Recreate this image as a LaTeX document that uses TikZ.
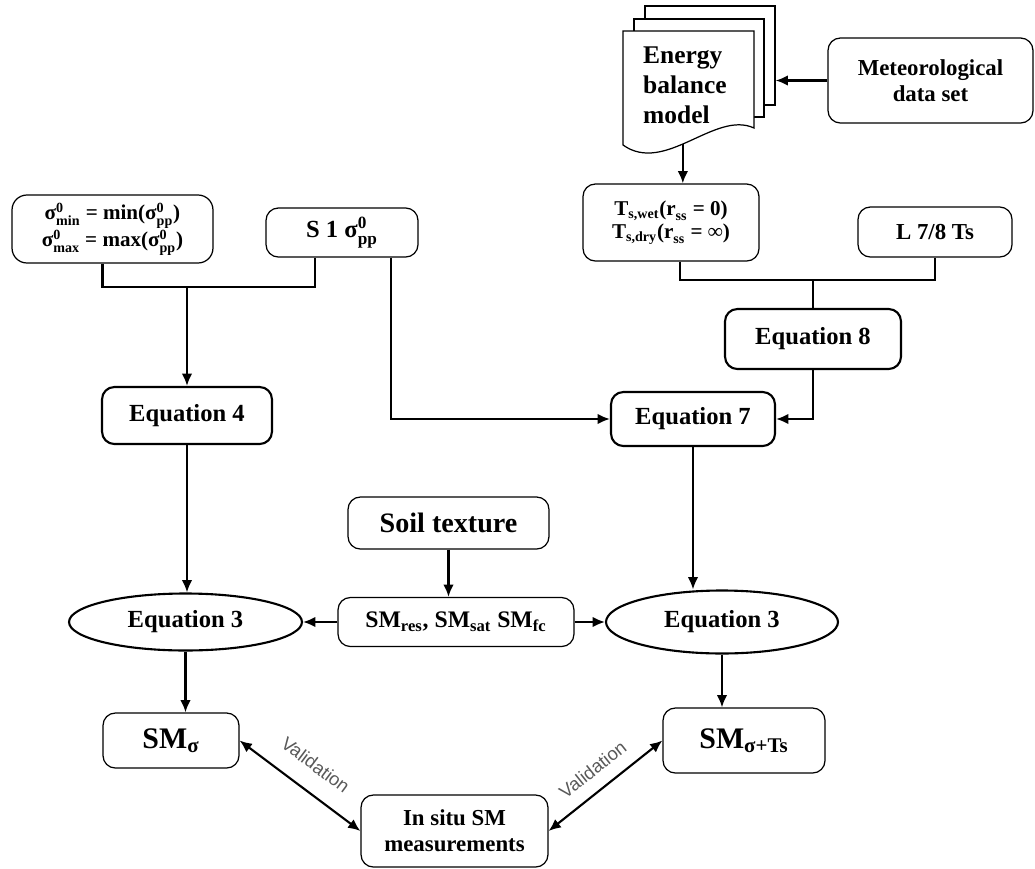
\documentclass[tikz,border=0pt]{standalone}
\usepackage{amsmath}
\usepackage{fontspec}
\setmainfont{Liberation Serif}
\setsansfont{Liberation Sans}
\usetikzlibrary{shapes,arrows.meta,positioning,calc}
\newcommand{\tx}[1]{\text{#1}}

\begin{document}
\begin{tikzpicture}[x=0.02cm, y=-0.02cm,
    box/.style={draw, rectangle, rounded corners=7pt, line width=0.7pt, inner sep=0pt, align=center, font=\bfseries\fontsize{13}{15}\selectfont},
    eqbox/.style={box, line width=1.2pt, font=\bfseries\fontsize{14}{16}\selectfont},
    eqell/.style={draw, ellipse, line width=1.2pt, inner sep=0pt, font=\bfseries\fontsize{14}{16}\selectfont},
    sheet/.style={draw, rectangle, fill=white, line width=0.7pt, minimum width=2.6cm},
    line/.style={line width=1.2pt},
    arr/.style={line, -{Latex[length=7pt,width=6pt]}},
    dbl/.style={line, {Latex[length=7pt,width=6pt]}-{Latex[length=7pt,width=6pt]}},
    vlabel/.style={font=\sffamily\fontsize{10.5}{12}\selectfont, text=black!65}]
    \useasboundingbox (0,0) rectangle (1035,869);

    % energy balance model (stacked sheets)
    \node (sheetc) [sheet, minimum height=1.98cm] at (710,55.5) {};
    \node (sheetb) [sheet, minimum height=1.96cm] at (699,68) {};
    \draw[fill=white, line width=0.7pt] (623,31) -- (754,31) -- (754,128)
        .. controls (715,110) and (665,175) .. coordinate[pos=0.55] (ebmout) (623,145) -- cycle;
    \node (ebm) [anchor=west, align=left, font=\bfseries\fontsize{14.5}{17}\selectfont] at (637,85) {Energy\\balance\\model};
    \node (met) [box, minimum width=4.1cm, minimum height=1.7cm] at (930.5,80.5) {Meteorological\\data set};

    % temperature inputs
    \node (ts) [box, minimum width=3.52cm, minimum height=1.54cm, font=\bfseries\fontsize{12}{13}\selectfont] at (671,222.5)
        {$\tx{T}_{\tx{s,wet}}\tx{(r}_{\tx{ss}}\tx{ = 0)}$\\$\tx{T}_{\tx{s,dry}}\tx{(r}_{\tx{ss}}\tx{ = ∞)}$};
    \node (lts) [box, minimum width=3.08cm, minimum height=1cm] at (935,232) {L 7/8 Ts};
    \node (eq8) [eqbox, minimum width=3.52cm, minimum height=1.2cm] at (813,339) {Equation 8};

    % backscatter inputs
    \node (sig) [box, rounded corners=8.5pt, minimum width=4.02cm, minimum height=1.36cm, font=\bfseries\fontsize{12}{13.6}\selectfont] at (112.5,229)
        {$\tx{σ}^{\tx{0}}_{\tx{min}}\tx{ = min(}\tx{σ}^{\tx{0}}_{\tx{pp}}\tx{)}$\\$\tx{σ}^{\tx{0}}_{\tx{max}}\tx{ = max(}\tx{σ}^{\tx{0}}_{\tx{pp}}\tx{)}$};
    \node (s1) [box, minimum width=3.04cm, minimum height=0.98cm, font=\bfseries\fontsize{14}{16}\selectfont] at (342,232.5)
        {S 1 $\tx{σ}^{\tx{0}}_{\tx{pp}}$};

    \node (eq4) [eqbox, minimum width=3.4cm, minimum height=1.14cm] at (187,415.5) {Equation 4};
    \node (eq7) [eqbox, minimum width=3.28cm, minimum height=1.08cm] at (693,419) {Equation 7};

    % soil
    \node (soil) [box, minimum width=4.02cm, minimum height=1.04cm, font=\bfseries\fontsize{16}{18}\selectfont] at (448.5,523) {Soil texture};
    \node (sm) [box, minimum width=4.72cm, minimum height=0.98cm, font=\bfseries\fontsize{13.5}{15}\selectfont] at (456,622)
        {SM\textsubscript{res}, SM\textsubscript{sat} SM\textsubscript{fc}};
    \node (eql) [eqell, minimum width=4.66cm, minimum height=1.14cm] at (185.5,622) {Equation 3};
    \node (eqr) [eqell, minimum width=4.64cm, minimum height=1.26cm] at (722,622) {Equation 3};

    % outputs
    \node (sms) [box, minimum width=2.72cm, minimum height=1.1cm, font=\bfseries\fontsize{17}{19}\selectfont] at (171,740.5) {SM\textsubscript{σ}};
    \node (smt) [box, minimum width=3.24cm, minimum height=1.3cm, font=\bfseries\fontsize{17}{19}\selectfont] at (744,740.5) {SM\textsubscript{σ+Ts}};
    \node (insitu) [box, minimum width=3.74cm, minimum height=1.44cm] at (454.5,831) {In situ SM\\measurements};

    % connectors
    \draw[arr] (met.west) -- (met.west -| sheetc.east);
    \draw[arr] (ebmout) -- (ebmout |- ts.north);
    \coordinate (tsjoin) at (eq8.north |- 0,280);
    \draw[line] ($(ts.south)+(9,0)$) |- (tsjoin) -| (lts.south);
    \draw[line] (tsjoin) -- (eq8.north);
    \coordinate (sigjoin) at (eq4.north |- 0,287);
    \draw[line] ($(sig.south)+(-10,0)$) |- (sigjoin) -| ($(s1.south)+(-27,0)$);
    \draw[arr] (sigjoin) -- (eq4.north);
    \draw[arr] ($(s1.south)+(49,0)$) |- (eq7.west);
    \draw[arr] (eq8.south) |- (eq7.east);
    \draw[arr] (eq4.south) -- (eq4.south |- eql.north);
    \draw[arr] (eq7.south) -- (eq7.south |- eqr.north);
    \draw[arr] (soil.south) -- (soil.south |- sm.north);
    \draw[arr] (sm.west) -- (eql.east);
    \draw[arr] (sm.east) -- (eqr.west);
    \draw[arr] (eql.south) -- (eql.south |- sms.north);
    \draw[arr] (eqr.south) -- (eqr.south |- smt.north);
    \draw[dbl] (sms.east) -- (insitu.west) node[vlabel, midway, sloped, above=7pt] {Validation};
    \draw[dbl] (insitu.east) -- (smt.west) node[vlabel, midway, sloped, above=4pt] {Validation};
\end{tikzpicture}
\end{document}
